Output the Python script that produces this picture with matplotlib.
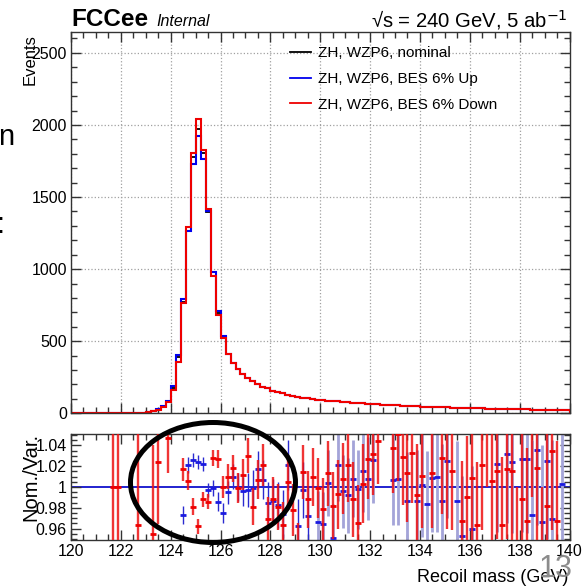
import numpy as np
import matplotlib
matplotlib.use("Agg")
import matplotlib.pyplot as plt
from matplotlib.patches import Ellipse
from matplotlib.ticker import MultipleLocator, FuncFormatter

plt.rcParams['font.family'] = ['Liberation Sans', 'DejaVu Sans']

# ---- data ----
edges = np.linspace(120.0, 140.0, 101)   # 0.2 GeV bins

nominal = [0, 0, 0, 0, 0, 0, 0, 0, 0, 0,
           1, 1, 2, 3, 5, 8, 14, 25, 45, 80,
           175, 388, 775, 1293, 1775, 1969, 1803, 1398, 980, 697,
           522, 411, 351, 305, 271, 243, 224, 201, 185, 173,
           158, 148, 139, 130, 122, 115, 109, 104, 99, 95,
           92, 88, 85, 82, 79, 76, 74, 71, 69, 67,
           65, 63, 61, 59, 57, 55, 53, 52, 50, 49,
           47, 46, 45, 44, 42, 41, 40, 39, 38, 37,
           36, 35, 34, 33, 32, 31, 31, 30, 29, 28,
           27, 27, 26, 25, 25, 24, 23, 23, 22, 21]

# BES up / down only differ visibly around the peak (bins 15..31)
bes_up = list(nominal)
bes_up[15:32] = [9, 15, 28, 50, 88, 192, 404, 796, 1266, 1730,
                 1923, 1764, 1402, 981, 711, 535, 413]
bes_down = list(nominal)
bes_down[15:32] = [8, 13, 24, 43, 78, 162, 358, 762, 1290, 1809,
                   2040, 1825, 1418, 953, 679, 522, 408]

# ratio nominal / BES-down (red)
red_mass = [121.7, 121.9, 122.7, 123.3, 123.5, 123.9, 124.5, 124.7, 124.9, 125.1,
            125.3, 125.5, 125.7, 125.9, 126.1, 126.3, 126.5, 126.7, 126.9, 127.1,
            127.3, 127.5, 127.7, 127.9, 128.1, 128.3, 128.5, 128.7, 128.9, 129.1,
            129.3, 129.5, 129.7, 129.9, 130.1, 130.3, 130.5, 130.7, 130.9, 131.1,
            131.3, 131.5, 131.7, 131.9, 132.1, 132.3, 132.9, 133.1, 133.3, 133.5,
            133.7, 133.9, 134.1, 134.5, 134.9, 135.1, 135.3, 135.7, 135.9, 136.1,
            136.3, 136.5, 136.7, 136.9, 137.1, 137.3, 137.5, 137.7, 137.9, 138.1,
            138.3, 138.5, 138.7, 138.9, 139.1, 139.3, 139.5]
red_ratio = [1.000, 1.000, 0.963, 0.955, 1.024, 1.047, 1.017, 1.006, 0.981, 0.962,
             0.988, 0.986, 1.028, 1.027, 1.000, 1.010, 1.018, 0.999, 1.012, 1.030,
             0.981, 1.007, 1.021, 0.969, 0.988, 0.981, 0.963, 1.005, 0.978, 0.935,
             1.014, 0.988, 1.010, 0.999, 0.979, 1.013, 0.982, 0.993, 1.008, 1.021,
             0.988, 0.965, 1.003, 1.027, 1.032, 1.044, 1.038, 1.051, 1.029, 1.013,
             1.033, 0.992, 1.011, 1.013, 1.028, 1.060, 1.015, 0.967, 0.990, 1.009,
             0.963, 1.021, 1.080, 1.006, 1.015, 0.963, 1.017, 1.015, 0.920, 0.988,
             0.967, 1.080, 1.018, 0.920, 0.982, 1.035, 0.967]
red_err = [0.300, 0.300, 0.120, 0.085, 0.060, 0.034, 0.011, 0.009, 0.008, 0.007,
           0.007, 0.007, 0.008, 0.009, 0.011, 0.012, 0.013, 0.014, 0.015, 0.017,
           0.018, 0.019, 0.020, 0.021, 0.022, 0.022, 0.023, 0.024, 0.025, 0.030,
           0.026, 0.027, 0.028, 0.029, 0.030, 0.031, 0.032, 0.033, 0.034, 0.035,
           0.036, 0.037, 0.038, 0.039, 0.040, 0.041, 0.044, 0.045, 0.046, 0.047,
           0.048, 0.049, 0.050, 0.052, 0.054, 0.100, 0.056, 0.058, 0.059, 0.060,
           0.061, 0.062, 0.080, 0.064, 0.065, 0.066, 0.067, 0.068, 0.080, 0.070,
           0.071, 0.090, 0.073, 0.080, 0.075, 0.076, 0.077]

# ratio nominal / BES-up (blue)
blue_mass = [124.5, 124.7, 124.9, 125.1, 125.3, 125.5, 125.7, 125.9, 126.1, 126.3,
             126.5, 126.7, 126.9, 127.1, 127.3, 127.5, 127.7, 127.9, 128.1, 128.3,
             128.5, 128.7, 129.1, 129.3, 129.5, 129.9, 130.1, 130.3, 130.5, 130.7,
             130.9, 131.1, 131.3, 131.5, 131.7, 131.9, 132.1, 132.9, 133.1, 133.5,
             133.9, 134.1, 134.3, 134.5, 134.7, 134.9, 135.1, 135.5, 135.7, 136.1,
             137.1, 137.5, 137.7, 138.1, 138.3, 138.5, 138.7, 138.9, 139.1, 139.3,
             139.7]
blue_ratio = [0.973, 1.021, 1.026, 1.024, 1.022, 0.997, 0.999, 0.986, 0.975, 0.995,
              1.010, 1.000, 0.996, 0.997, 0.999, 1.017, 1.007, 0.985, 0.987, 0.983,
              0.974, 1.021, 0.962, 0.997, 0.972, 0.966, 0.964, 1.004, 0.951, 1.021,
              0.996, 0.992, 1.008, 0.998, 1.015, 1.008, 1.026, 1.007, 1.008, 0.987,
              0.987, 1.002, 0.984, 1.009, 1.010, 0.987, 1.025, 0.987, 0.953, 0.960,
              1.022, 1.032, 1.024, 1.027, 1.027, 0.973, 1.036, 0.966, 1.025, 0.969,
              1.003]
blue_err = [0.009, 0.008, 0.007, 0.007, 0.007, 0.007, 0.008, 0.009, 0.010, 0.011,
            0.012, 0.013, 0.014, 0.016, 0.017, 0.018, 0.019, 0.020, 0.021, 0.022,
            0.023, 0.024, 0.026, 0.027, 0.028, 0.030, 0.031, 0.032, 0.033, 0.034,
            0.035, 0.036, 0.037, 0.038, 0.039, 0.040, 0.041, 0.044, 0.045, 0.047,
            0.049, 0.050, 0.051, 0.052, 0.053, 0.054, 0.055, 0.057, 0.058, 0.060,
            0.065, 0.067, 0.068, 0.070, 0.071, 0.072, 0.073, 0.074, 0.075, 0.076,
            0.078]

legend_labels = ['ZH, WZP6, nominal', 'ZH, WZP6, BES 6% Up', 'ZH, WZP6, BES 6% Down']

# ---- figure ----
W, H = 584, 587
fig = plt.figure(figsize=(W / 100, H / 100), dpi=100)

def px_box(x0, y0, x1, y1):
    return [x0 / W, 1 - y1 / H, (x1 - x0) / W, (y1 - y0) / H]

ax = fig.add_axes(px_box(71, 32, 569.5, 413.3))
axr = fig.add_axes(px_box(71, 434, 569.5, 540))

frame_col = '#333333'
for a in (ax, axr):
    for s in a.spines.values():
        s.set_color(frame_col)
        s.set_linewidth(1.0)
    a.tick_params(which='both', direction='in', top=True, right=True,
                  color=frame_col, labelsize=11.5, pad=3)
    a.tick_params(which='major', length=7, width=1.0)
    a.tick_params(which='minor', length=4, width=1.0)
    a.xaxis.set_major_locator(MultipleLocator(2))
    a.xaxis.set_minor_locator(MultipleLocator(0.5))
    a.set_xlim(120, 140)

# top panel
ax.stairs(nominal, edges, color='black', lw=1.3, label=legend_labels[0])
ax.stairs(bes_up, edges, color='#0000ee', lw=1.5, label=legend_labels[1])
ax.stairs(bes_down, edges, color='#ee0000', lw=1.5, label=legend_labels[2])
ax.set_ylim(0, 2645)
ax.yaxis.set_major_locator(MultipleLocator(500))
ax.yaxis.set_minor_locator(MultipleLocator(100))
ax.grid(True, which='major', ls=':', color='#a0a0a0', lw=0.9)
ax.set_axisbelow(True)
ax.tick_params(labelbottom=False)

leg = ax.legend(loc='upper left', bbox_to_anchor=(290 / W, 1 - 46 / H),
                bbox_transform=fig.transFigure, frameon=False, fontsize=11,
                handlelength=1.35, handletextpad=0.45, labelspacing=0.78,
                borderpad=0, borderaxespad=0)
for h in leg.get_lines():
    h.set_linewidth(1.3)

# ratio panel
axr.axhline(1.0, color='#1010cc', lw=1.3, zorder=1)
bm = np.array(blue_mass)
be = np.array(blue_err)
thin = be < 0.03
axr.errorbar(bm[thin], np.array(blue_ratio)[thin], yerr=be[thin], fmt='none',
             ecolor='#2a2ad0', elinewidth=1.0, zorder=2)
axr.errorbar(bm[~thin], np.array(blue_ratio)[~thin], yerr=be[~thin], fmt='none',
             ecolor='#a4a4d8', elinewidth=2.0, zorder=2)
axr.plot(blue_mass, blue_ratio, ls='none', marker='_', ms=5, mew=2,
         color='#1a1ae0', zorder=3)
axr.errorbar(red_mass, red_ratio, yerr=red_err, fmt='none',
             ecolor='#ee1111', elinewidth=1.7, alpha=0.85, zorder=4)
axr.plot(red_mass, red_ratio, ls='none', marker='_', ms=5, mew=2,
         color='#ee0000', zorder=5)
axr.set_ylim(0.949, 1.051)
axr.yaxis.set_major_locator(MultipleLocator(0.02))
axr.yaxis.set_minor_locator(MultipleLocator(0.005))
axr.yaxis.set_major_formatter(FuncFormatter(lambda v, p: f"{v:g}"))

# texts
fig.text(71 / W, 1 - 26 / H, 'FCCee', fontsize=17.5, fontweight='bold', va='baseline')
fig.text(156 / W, 1 - 26 / H, 'Internal', fontsize=11.5, style='italic', va='baseline')
fig.text(568 / W, 1 - 27 / H, '√s = 240 GeV, 5 ab$^{-1}$', fontsize=14.6,
         ha='right', va='baseline')
fig.text(30 / W, 1 - 34 / H, 'Events', fontsize=12, rotation=90, ha='center', va='top')
fig.text(31 / W, 1 - 477 / H, 'Nom./Var.', fontsize=14.5, rotation=90,
         ha='center', va='center')
fig.text(568 / W, 1 - 577 / H, 'Recoil mass (GeV)', fontsize=13,
         ha='right', va='center')

# slide leftovers
fig.text(-2 / W, 1 - 145 / H, 'n', fontsize=21, va='baseline', ha='left')
fig.text(-4 / W, 1 - 233 / H, ':', fontsize=21, va='baseline', ha='left')
fig.text(556 / W, 1 - 569 / H, '13', fontsize=22, color='#8c8c8c',
         ha='center', va='center')

fig.add_artist(Ellipse((213 / W, 1 - 482.5 / H), 165 / W, 120 / H,
                       transform=fig.transFigure, fill=False,
                       edgecolor='black', lw=3.6, zorder=20))

fig.savefig('out.png', dpi=100)
